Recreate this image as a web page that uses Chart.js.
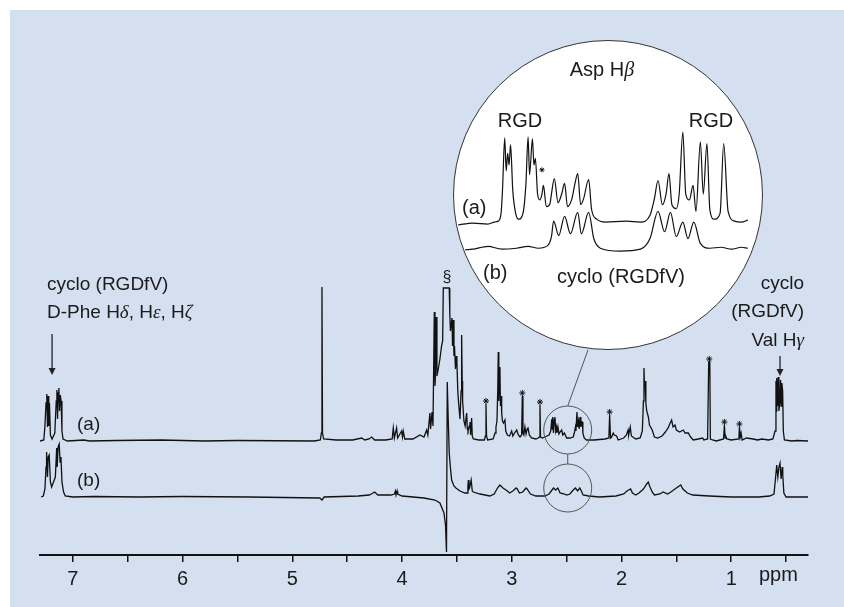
<!DOCTYPE html>
<html>
<head>
<meta charset="utf-8">
<script src="https://cdn.jsdelivr.net/npm/chart.js@4.4.0/dist/chart.umd.min.js"></script>
<style>
  body { margin: 0; background: #fff; }
  #wrap { position: relative; width: 844px; height: 607px; overflow: hidden;
          font-family: 'Liberation Sans', Arial, sans-serif; color: #1b1b1b; }
  #panel { position: absolute; left: 10px; top: 10px; right: 0; bottom: 0; background: #d4dff0; }
  #main { position: absolute; left: 0; top: 0; }
  #lens { position: absolute; left: 453px; top: 40px; width: 310px; height: 310px; border-radius: 50%;
          background: #fff; border: 1.5px solid #333; box-sizing: border-box; }
  #inset { position: absolute; left: 453px; top: 40px; clip-path: circle(153px at 155px 155px); }
  .t { position: absolute; line-height: 1; white-space: nowrap; }
  .g { font-family: 'Liberation Serif', 'DejaVu Serif', serif; font-style: italic; }
  .c { transform: translateX(-50%); }
</style>
</head>
<body>
<div id="wrap">
  <div id="panel"></div>
  <canvas id="main" width="844" height="607"></canvas>
  <div id="lens"></div>
  <canvas id="inset" width="310" height="310"></canvas>

  <div class="t" style="left:47px;top:274px;font-size:19px">cyclo (RGDfV)</div>
  <div class="t" style="left:47px;top:302px;font-size:19px">D-Phe H<span class="g">δ</span>, H<span class="g">ε</span>, H<span class="g">ζ</span></div>
  <div class="t" style="right:40px;top:273px;font-size:19px">cyclo</div>
  <div class="t" style="right:40px;top:301px;font-size:19px">(RGDfV)</div>
  <div class="t" style="right:40px;top:330px;font-size:19px">Val H<span class="g">γ</span></div>
  <div class="t c" style="left:447px;top:269px;font-size:16px">§</div>
  <div class="t" style="left:77px;top:414px;font-size:19px">(a)</div>
  <div class="t" style="left:77px;top:470px;font-size:19px">(b)</div>
  <div class="t" style="left:759px;top:564px;font-size:20px">ppm</div>

  <div class="t c" style="left:602px;top:59px;font-size:20px">Asp H<span class="g">β</span></div>
  <div class="t c" style="left:520px;top:110px;font-size:20px">RGD</div>
  <div class="t c" style="left:711px;top:110px;font-size:20px">RGD</div>
  <div class="t" style="left:462px;top:197px;font-size:20px">(a)</div>
  <div class="t" style="left:483px;top:262px;font-size:20px">(b)</div>
  <div class="t c" style="left:621px;top:266px;font-size:20px">cyclo (RGDfV)</div>
</div>

<script>
// ppm axis ticks (labels only on whole numbers)
const ppmTicks = [7, 6.5, 6, 5.5, 5, 4.5, 4, 3.5, 3, 2.5, 2, 1.5, 1, 0.5];

// spectrum (a): [ppm, intensity]
const spectrumA = [
  [7.30, 0], [7.265, 1], [7.255, 15], [7.245, 38], [7.238, 47], [7.232, 14], [7.226, 45], [7.22, 15],
  [7.214, 38], [7.205, 6], [7.19, 2], [7.165, 8], [7.152, 40], [7.146, 51], [7.14, 22], [7.135, 48],
  [7.128, 53], [7.122, 30], [7.115, 46], [7.108, 40], [7.1, 10], [7.09, 2], [7.05, 0],
  [6.9, 1], [6.85, 0], [6.6, 0.5], [6.2, 1], [5.8, 0], [5.5, 0.5], [4.8, 0],
  [4.745, 1], [4.735, 8], [4.73, 154], [4.725, 8], [4.715, 2], [4.6, 1], [4.45, 1], [4.368, 3],
  [4.34, 1], [4.30, 2], [4.277, 4], [4.25, 1], [4.15, 1], [4.09, 2], [4.08, 13], [4.07, 3],
  [4.05, 13], [4.04, 3], [4.004, 10], [3.996, 4], [3.989, 10], [3.975, 2], [3.90, 2],
  [3.837, 6], [3.80, 4], [3.776, 11], [3.765, 6], [3.746, 28], [3.74, 12], [3.727, 29], [3.718, 15],
  [3.706, 129], [3.700, 55], [3.697, 60], [3.688, 124], [3.682, 65], [3.673, 70], [3.655, 82],
  [3.640, 95], [3.630, 100], [3.624, 153], [3.570, 153], [3.565, 128], [3.559, 110], [3.545, 123],
  [3.540, 95], [3.533, 121], [3.527, 85], [3.522, 95], [3.513, 72], [3.505, 85], [3.500, 78],
  [3.492, 50], [3.486, 40], [3.472, 22], [3.462, 50], [3.457, 106], [3.452, 60], [3.448, 40],
  [3.436, 20], [3.425, 15], [3.411, 28], [3.405, 12], [3.399, 10], [3.387, 15], [3.381, 19],
  [3.375, 6], [3.366, 23], [3.36, 5], [3.35, 2], [3.30, 1],
  [3.25, 1], [3.24, 5], [3.235, 37], [3.23, 5], [3.22, 1], [3.17, 2], [3.152, 8], [3.144, 14],
  [3.135, 20], [3.128, 50], [3.123, 89], [3.118, 40], [3.112, 70], [3.108, 74], [3.103, 35],
  [3.097, 45], [3.092, 28], [3.085, 20], [3.075, 18], [3.062, 21], [3.055, 10], [3.04, 6],
  [3.02, 5], [3.001, 10], [2.99, 5], [2.975, 8], [2.955, 11], [2.94, 6], [2.925, 4], [2.91, 6],
  [2.904, 45], [2.898, 8], [2.89, 6], [2.88, 14], [2.87, 7], [2.86, 12], [2.852, 13], [2.84, 6],
  [2.82, 3], [2.78, 2], [2.76, 3], [2.748, 4], [2.743, 36], [2.738, 4], [2.72, 3], [2.70, 4],
  [2.66, 6], [2.645, 10], [2.635, 22], [2.63, 12], [2.627, 24], [2.62, 8], [2.612, 22], [2.606, 24],
  [2.6, 10], [2.592, 14], [2.588, 8], [2.579, 14], [2.57, 7], [2.56, 9], [2.545, 11], [2.535, 6],
  [2.52, 8], [2.5, 3], [2.47, 3], [2.44, 4], [2.43, 8], [2.42, 14], [2.415, 10], [2.406, 29],
  [2.4, 14], [2.392, 20], [2.385, 12], [2.378, 24], [2.37, 14], [2.362, 19], [2.357, 19],
  [2.352, 8], [2.34, 3], [2.32, 1], [2.25, 1], [2.15, 2], [2.115, 3], [2.108, 26], [2.1, 3],
  [2.09, 4], [2.075, 8], [2.065, 6], [2.045, 5], [2.03, 1], [1.98, 3], [1.955, 6], [1.94, 11],
  [1.935, 6], [1.92, 14], [1.91, 5], [1.87, 2], [1.83, 3], [1.81, 10], [1.80, 40], [1.795, 73],
  [1.79, 54], [1.785, 60], [1.778, 38], [1.77, 30], [1.755, 24], [1.745, 16], [1.72, 11],
  [1.70, 4], [1.67, 3], [1.63, 5], [1.60, 9], [1.588, 11], [1.575, 13], [1.56, 17], [1.543, 21],
  [1.53, 14], [1.512, 16], [1.50, 11], [1.47, 9], [1.437, 11], [1.42, 8], [1.391, 8], [1.37, 4],
  [1.346, 1], [1.30, 2], [1.26, 3], [1.25, 1], [1.215, 2], [1.205, 79], [1.195, 79], [1.19, 2],
  [1.17, 1], [1.135, 0], [1.07, 2], [1.062, 16], [1.055, 3], [1.05, 5], [1.04, 2], [1.00, 1],
  [0.93, 2], [0.925, 14], [0.918, 4], [0.91, 8], [0.9, 1], [0.86, 3], [0.80, 2], [0.76, 1],
  [0.72, 2], [0.66, 1], [0.62, 2], [0.60, 10], [0.592, 60], [0.588, 30], [0.585, 63], [0.578, 35],
  [0.571, 64], [0.565, 30], [0.556, 40], [0.55, 61], [0.545, 35], [0.538, 58], [0.531, 50],
  [0.525, 10], [0.515, 1], [0.45, 0], [0.40, 0.5], [0.30, 0]
];

// spectrum (b): [ppm, intensity]
const spectrumB = [
  [7.29, 0], [7.27, 1], [7.255, 8], [7.245, 30], [7.24, 45], [7.232, 20], [7.225, 40], [7.216, 42],
  [7.205, 15], [7.194, 10], [7.18, 14], [7.16, 20], [7.148, 49], [7.143, 30], [7.135, 50],
  [7.125, 53], [7.117, 35], [7.109, 40], [7.1, 15], [7.085, 5], [7.07, 1], [7.0, 0], [6.8, 0.5],
  [6.4, 0], [6.0, 0.5], [5.4, 0], [4.75, -1], [4.73, -3], [4.71, 0], [4.4, 1], [4.3, 2], [4.28, 3],
  [4.25, 5], [4.22, 2], [4.1, 2], [4.07, 3], [4.06, 6], [4.055, 2], [4.045, 6], [4.04, 3], [4.0, 1],
  [3.9, 0], [3.80, -1], [3.70, -3], [3.655, -6], [3.618, -16], [3.604, -28], [3.595, -55],
  [3.588, 115], [3.579, 77], [3.570, 44], [3.559, 29], [3.548, 17], [3.527, 11], [3.509, 9],
  [3.472, 6], [3.427, 4], [3.408, 4], [3.40, 10], [3.396, 17], [3.39, 8], [3.385, 9], [3.37, 17],
  [3.366, 17], [3.36, 6], [3.35, 5], [3.29, 3], [3.2, 1], [3.16, 3], [3.13, 9], [3.108, 12],
  [3.08, 9], [3.04, 6], [3.02, 4], [2.99, 6], [2.96, 9], [2.95, 8], [2.93, 4], [2.90, 5], [2.87, 9],
  [2.86, 8], [2.83, 3], [2.78, 1], [2.70, 1], [2.66, 3], [2.64, 6], [2.62, 9], [2.60, 7], [2.58, 9],
  [2.56, 4], [2.52, 3], [2.50, 2], [2.47, 3], [2.44, 7], [2.42, 9], [2.40, 6], [2.38, 9], [2.37, 7],
  [2.35, 2], [2.30, 1], [2.20, 0], [2.05, 1], [1.98, 3], [1.95, 6], [1.917, 8], [1.90, 4],
  [1.87, 2], [1.84, 4], [1.80, 8], [1.77, 13], [1.756, 15], [1.74, 10], [1.72, 5], [1.70, 2],
  [1.65, 3], [1.62, 5], [1.58, 3], [1.55, 5], [1.50, 9], [1.46, 12], [1.44, 8], [1.40, 4],
  [1.35, 2], [1.2, 1], [1.0, 0], [0.75, 0], [0.65, 1], [0.61, 3], [0.595, 20], [0.585, 32],
  [0.575, 20], [0.565, 30], [0.555, 34], [0.545, 18], [0.535, 30], [0.53, 22], [0.52, 4],
  [0.50, 0], [0.30, 0]
];

// asterisks over impurity peaks in (a)
const starsA = [[3.235, 40], [2.904, 48], [2.743, 39], [2.108, 29], [1.20, 82], [1.062, 19], [0.925, 17]];

// expanded Asp H-beta region (inset)
const insetA = [
  [2.700, -2], [2.680, 0], [2.659, -1], [2.650, 1], [2.645, 2], [2.641, 10], [2.639, 35], [2.636, 88],
  [2.634, 54], [2.632, 72], [2.630, 60], [2.628, 81], [2.625, 34], [2.621, 10], [2.617, 4],
  [2.611, 10], [2.607, 40], [2.604, 89], [2.602, 50], [2.598, 87], [2.596, 60], [2.594, 67],
  [2.591, 30], [2.588, 24], [2.585, 30], [2.583, 39], [2.579, 17], [2.574, 20], [2.572, 30],
  [2.568, 46], [2.563, 21], [2.558, 30], [2.554, 41], [2.550, 17], [2.544, 25], [2.540, 40],
  [2.536, 51], [2.532, 19], [2.528, 25], [2.521, 45], [2.517, 14], [2.510, 4], [2.498, 1],
  [2.470, 2], [2.450, 1], [2.437, 8], [2.431, 25], [2.426, 44], [2.420, 19], [2.415, 30],
  [2.411, 51], [2.407, 19], [2.401, 15], [2.397, 30], [2.392, 94], [2.388, 30], [2.383, 24],
  [2.378, 39], [2.374, 12], [2.368, 84], [2.364, 30], [2.359, 82], [2.355, 14], [2.349, 4],
  [2.341, 10], [2.336, 82], [2.330, 12], [2.321, 2], [2.312, 1], [2.303, 3]
];
const insetB = [
  [2.700, 0], [2.680, 1], [2.659, 4], [2.640, 1], [2.620, 2], [2.604, 4], [2.590, 2], [2.577, 5],
  [2.572, 14], [2.569, 30], [2.562, 15], [2.554, 35], [2.546, 17], [2.536, 39], [2.531, 17],
  [2.521, 39], [2.514, 12], [2.505, 2], [2.478, -1], [2.450, 1], [2.437, 12], [2.426, 40],
  [2.417, 19], [2.409, 39], [2.401, 14], [2.392, 29], [2.385, 12], [2.377, 29], [2.368, 7],
  [2.355, 2], [2.340, 3], [2.325, 1], [2.312, 3], [2.303, 2]
];
const starsInset = [[2.585, 55]];

const zoomCentre = 2.49;   // ppm of the circled region

const pts = arr => arr.map(([x, y]) => ({ x, y }));
const lineSet = (arr, axis, w, smooth) => ({
  data: pts(arr), yAxisID: axis, borderColor: '#111', borderWidth: w,
  pointRadius: 0, tension: smooth ? 0.4 : 0, cubicInterpolationMode: smooth ? 'monotone' : 'default',
  fill: false
});
const starSet = (arr, axis, r) => ({
  data: pts(arr), yAxisID: axis, showLine: false, pointStyle: 'star',
  pointRadius: r, borderColor: '#111', borderWidth: 1
});

function arrow(ctx, x, y0, y1) {
  ctx.beginPath();
  ctx.moveTo(x, y0);
  ctx.lineTo(x, y1 - 5);
  ctx.stroke();
  ctx.beginPath();
  ctx.moveTo(x - 3.5, y1 - 7);
  ctx.lineTo(x + 3.5, y1 - 7);
  ctx.lineTo(x, y1);
  ctx.closePath();
  ctx.fill();
}

const lensMarks = {
  id: 'lensMarks',
  afterDatasetsDraw(chart) {
    const { ctx } = chart;
    const { x, ya, yb } = chart.scales;
    const cx = x.getPixelForValue(zoomCentre);
    const ca = ya.getPixelForValue(11);
    const cb = yb.getPixelForValue(9);
    const r = 24;
    ctx.save();
    ctx.strokeStyle = '#555';
    ctx.lineWidth = 1;
    ctx.beginPath(); ctx.arc(cx, ca, r, 0, Math.PI * 2); ctx.stroke();
    ctx.beginPath(); ctx.arc(cx, cb, r, 0, Math.PI * 2); ctx.stroke();
    ctx.beginPath();
    ctx.moveTo(cx, ca + r); ctx.lineTo(cx, cb - r);
    ctx.moveTo(cx, ca - r); ctx.lineTo(588, 350);
    ctx.stroke();
    // label arrows
    ctx.strokeStyle = '#222';
    ctx.fillStyle = '#222';
    ctx.lineWidth = 1.3;
    arrow(ctx, x.getPixelForValue(7.19), 334, 375);
    arrow(ctx, x.getPixelForValue(0.555), 356, 376);
    ctx.restore();
  }
};

new Chart(document.getElementById('main'), {
  type: 'line',
  data: {
    datasets: [
      lineSet(spectrumA, 'ya', 1.3, false),
      lineSet(spectrumB, 'yb', 1.3, false),
      starSet(starsA, 'ya', 3)
    ]
  },
  options: {
    responsive: false,
    animation: false,
    events: [],
    layout: { padding: { left: 40, right: 36, top: 30, bottom: 12 } },
    plugins: { legend: { display: false }, tooltip: { enabled: false } },
    scales: {
      x: {
        type: 'linear', reverse: true, min: 0.3, max: 7.3, position: 'bottom',
        afterBuildTicks: s => { s.ticks = ppmTicks.map(v => ({ value: v })); },
        afterFit: s => { s.height = 40; },
        border: { display: true, color: '#111', width: 2 },
        grid: { drawOnChartArea: false, drawTicks: true, tickLength: 7, color: '#111', lineWidth: 1.5 },
        ticks: {
          autoSkip: false, maxRotation: 0, padding: 5,
          color: '#1b1b1b', font: { family: "'Liberation Sans', Arial, sans-serif", size: 20 },
          callback: v => Number.isInteger(v) ? String(v) : ''
        }
      },
      y: { display: false },
      ya: { type: 'linear', display: false, min: -114, max: 411 },
      yb: { type: 'linear', display: false, min: -58, max: 467 }
    }
  },
  plugins: [lensMarks]
});

new Chart(document.getElementById('inset'), {
  type: 'line',
  data: {
    datasets: [
      lineSet(insetA, 'ya', 1.2, true),
      lineSet(insetB, 'yb', 1.2, true),
      starSet(starsInset, 'ya', 2.5)
    ]
  },
  options: {
    responsive: false,
    animation: false,
    events: [],
    layout: { padding: { left: 4, right: 13, top: 0, bottom: 0 } },
    plugins: { legend: { display: false }, tooltip: { enabled: false } },
    scales: {
      x: { type: 'linear', reverse: true, min: 2.30, max: 2.70, display: false },
      y: { display: false },
      ya: { type: 'linear', display: false, min: -126, max: 184 },
      yb: { type: 'linear', display: false, min: -98, max: 212 }
    }
  }
});
</script>
</body>
</html>
